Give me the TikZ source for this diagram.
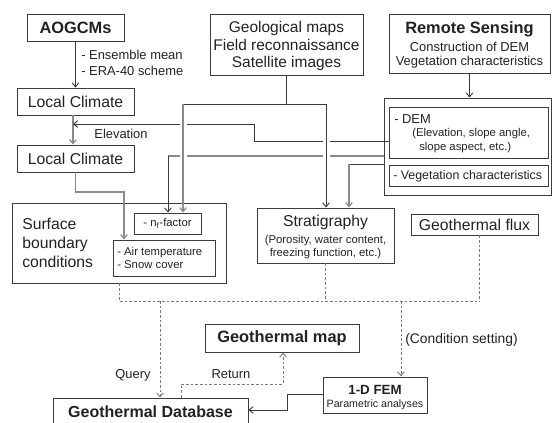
\documentclass[tikz,border=0pt]{standalone}
\usepackage{fontspec}
\setmainfont{Liberation Sans}
\usetikzlibrary{arrows.meta,fit}
\definecolor{bd}{HTML}{3C3C3C}
\definecolor{ln}{HTML}{3A3A3A}
\definecolor{lg}{HTML}{8A8A8A}
\definecolor{dl}{HTML}{7A7A7A}
\definecolor{tx}{HTML}{222222}
\begin{document}
\begin{tikzpicture}[x=0.75pt,y=-0.75pt,
  box/.style={draw=bd,line width=0.7pt,inner sep=0pt},
  txt/.style={inner sep=0pt,text=tx},
  fbig/.style={txt,font=\fontsize{12.3pt}{14pt}\selectfont\bfseries},
  fmed/.style={txt,font=\fontsize{11.8pt}{14pt}\selectfont},
  fgeo/.style={txt,font=\fontsize{11.6pt}{12.8pt}\selectfont,align=center},
  fsm/.style={txt,font=\fontsize{9.7pt}{11pt}\selectfont},
  fxs/.style={txt,font=\fontsize{8.5pt}{10pt}\selectfont},
  conn/.style={draw=ln,line width=0.7pt},
  conng/.style={draw=lg,line width=0.9pt},
  dsh/.style={draw=dl,line width=0.7pt,dash pattern=on 2pt off 1.5pt},
  tip/.style={-{Straight Barb[length=3pt,width=5pt]}}
]
\useasboundingbox (0,0) rectangle (553,422);

% ---------- boxes ----------
\node[box,fit={(27,14)(124,41)}] (aogcm) {};
\node[box,fit={(210,14)(363,75)}] (geo) {};
\node[box,fit={(389,14)(550,73)}] (rs) {};
\node[box,fit={(17,88)(134,115)}] (lc1) {};
\node[box,fit={(17,145)(134,172)}] (lc2) {};
\node[box,fit={(384,98)(551,195)}] (cont) {};
\node[box,fit={(389,107)(548,158)}] (dem) {};
\node[box,fit={(389,165)(548,186)}] (veg) {};
\node[box,fit={(12,203)(226,283)}] (sbc) {};
\node[box,fit={(134,213)(201,234)}] (nf) {};
\node[box,fit={(113,240)(215,276)}] (air) {};
\node[box,fit={(257,208)(394,263)}] (strat) {};
\node[box,fit={(411,214)(538,235)}] (flux) {};
\node[box,fit={(205,324)(359,352)}] (gmap) {};
\node[box,fit={(323,377)(427,413)}] (fem) {};
\node[box,fit={(53,398)(248,440)}] (db) {};

% ---------- texts ----------
\node[fbig] (aogcmT) at (aogcm.center) {AOGCMs};
\node[fgeo] (geoT) at (286.5,46) {Geological maps\\Field reconnaissance\\Satellite images};
\node[fbig] (rsT1) at (469.5,29) {Remote Sensing};
\node[fsm] (rsT2) at (469.5,47) {Construction of DEM};
\node[fsm] (rsT3) at (469.5,62) {Vegetation characteristics};
\node[fsm,anchor=west] (ens) at (81,55) {- Ensemble mean};
\node[fsm,anchor=west] (era) at (81,71) {- ERA-40 scheme};
\node[fmed] (lc1T) at (lc1.center) {Local Climate};
\node[fmed] (lc2T) at (lc2.center) {Local Climate};
\node[fsm] (elevT) at (121,134) {Elevation};
\node[fsm,anchor=west] (demT1) at (394,119) {- DEM};
\node[fxs,anchor=west] (demT2) at (412,134) {(Elevation, slope angle,};
\node[fxs,anchor=west] (demT3) at (419,148) {slope aspect, etc.)};
\node[txt,font=\fontsize{9.3pt}{11pt}\selectfont,anchor=west] (vegT) at (393,176) {- Vegetation characteristics};
\node[txt,font=\fontsize{11.8pt}{14.2pt}\selectfont,align=left,anchor=west] (sbcT) at (22,243) {Surface\\boundary\\conditions};
\node[fxs] (nfT) at (nf.center) {- n\textsubscript{f}-factor};
\node[fxs,anchor=west,align=left,font=\fontsize{8.5pt}{10pt}\selectfont] (airT) at (117,258) {- Air temperature\\- Snow cover};
\node[fmed] (stratT1) at (325.5,222) {Stratigraphy};
\node[fxs,align=center] (stratT2) at (325.5,247) {(Porosity, water content,\\freezing function, etc.)};
\node[fmed] (fluxT) at (flux.center) {Geothermal flux};
\node[fbig] (gmapT) at (gmap.center) {Geothermal map};
\node[txt,font=\fontsize{10pt}{12pt}\selectfont\bfseries] (femT1) at (375,390) {1-D FEM};
\node[txt,font=\fontsize{8pt}{9pt}\selectfont] (femT2) at (375,405) {Parametric analyses};
\node[txt,font=\fontsize{12pt}{14pt}\selectfont\bfseries] (dbT) at (150.5,412) {Geothermal Database};
\node[fsm] (qT) at (133,375) {Query};
\node[fsm] (retT) at (231,374) {Return};
\node[txt,font=\fontsize{10.4pt}{12pt}\selectfont,anchor=west] (condT) at (405,340) {(Condition setting)};

% ---------- junction coordinates ----------
\coordinate (eA) at (254,141);
\coordinate (eB) at (254,124);
\coordinate (eC) at (73,124);
\coordinate (gN) at (183,104);
\coordinate (gS) at (326,104);
\coordinate (cA) at (168,156);
\coordinate (vA) at (349,164);
\coordinate (lB) at (124,192);
\coordinate (d1) at (119,301);
\coordinate (fD) at (479,301);
\coordinate (qA) at (160,301);
\coordinate (cB) at (401,301);
\coordinate (r1) at (181,384);
\coordinate (r2) at (283,384);
\coordinate (f1) at (287,394);
\coordinate (f2) at (287,410);

% ---------- solid connectors ----------
\draw[conn,tip] (aogcm.south) -- (lc1.north);
\draw[conng,tip] ([xshift=-1.9pt]lc1.south) -- ([xshift=-1.9pt]lc2.north);
\draw[conng,tip] (lc2.south) |- (lB) -- (lB |- air.north);
\draw[conn,tip] (rs.south) -- (rs.south |- cont.north);
% horizontals first
\draw[conn,tip] (eA -| dem.west) -- (eA) -- (eB) -- (eC);
\draw[conng] (cA -| cont.west) -- (cA);
\draw[conn] (vA -| cont.west) -- (vA);
% gaps at crossings
\fill[white] (322.5,137) rectangle (329.5,145);
\fill[white] (322.5,152) rectangle (329.5,160);
\fill[white] (179.5,120) rectangle (186.5,128);
\fill[white] (179.5,152) rectangle (186.5,160);
% verticals
\draw[conn,tip] (cA) -- (cA |- nf.north);
\draw[conng,tip] (vA) -- (vA |- strat.north);
\draw[conn,tip] (geo.south) |- (gS) -- (gS |- strat.north);
\draw[conn] (geo.south |- gN) -- (gN);
\draw[conng,tip] (gN) -- (gN |- nf.north);
\draw[conn,tip] (f1 -| fem.west) -- (f1) -- (f2) -- (f2 -| db.east);

% ---------- dashed connectors ----------
\draw[dsh] (sbc.south) -- (d1) -- (fD);
\draw[dsh] (strat.south) -- (strat.south |- d1);
\draw[dsh] (fD |- flux.south) -- (fD);
\draw[dsh,tip] (qA) -- (qA |- db.north);
\draw[dsh,tip] (cB) -- (cB |- fem.north);
\draw[dsh,tip] (r1 |- db.north) -- (r1) -- (r2) -- (r2 |- gmap.south);
\end{tikzpicture}
\end{document}
